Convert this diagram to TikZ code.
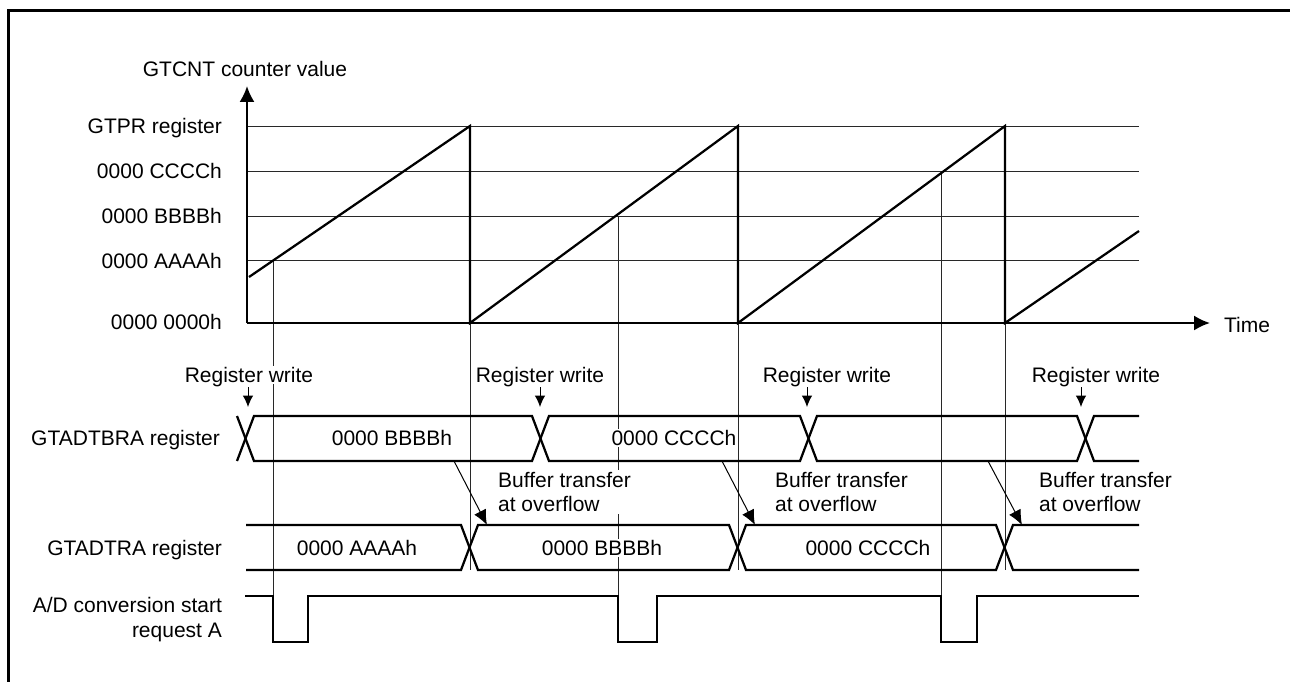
\documentclass[tikz,border=0pt]{standalone}
\usepackage{fontspec}
\setmainfont{Liberation Sans}
\usepackage{tikz}
\usetikzlibrary{arrows.meta, calc}
\definecolor{ink}{RGB}{0,0,0}
\definecolor{rule}{RGB}{40,40,40}

\begin{document}
\begin{tikzpicture}[
    x=0.2mm, y=-0.2mm,
    font=\fontsize{11.95}{14.2}\selectfont,
    >={Latex[length=9pt,width=8.5pt]},
    sig/.style={draw=ink,line width=0.45mm,line join=miter},
    grd/.style={draw=rule,line width=0.2mm},
    lbl/.style={fill=white,inner sep=1pt,text height=8.6pt,text depth=0pt},
    two/.style={fill=white,inner sep=1pt,align=left},
    wr/.style={-{Latex[length=6.5pt,width=6pt]},draw=ink,line width=0.2mm},
    bt/.style={-{Latex[length=8.5pt,width=7.5pt]},draw=ink,line width=0.2mm}]

  \useasboundingbox (0,0) rectangle (1290,682);
  \draw[line width=0.6mm] (8.5,682) -- (8.5,10.5) -- (1290,10.5);

  % counter value axes
  \coordinate (O) at (247,323);
  \coordinate (ytop) at (247,86);
  \coordinate (xend) at (1210,323);
  \node[lbl] (ylab) at (245,69) {GTCNT counter value};
  \node[lbl,anchor=west] (tlab) at (1222,325) {Time};

  \node[lbl,anchor=east] (lpr) at (224,126) {GTPR register};
  \node[lbl,anchor=east] (lcc) at (224,171) {0000 CCCCh};
  \node[lbl,anchor=east] (lbb) at (224,216) {0000 BBBBh};
  \node[lbl,anchor=east] (laa) at (224,261) {0000 AAAAh};
  \node[lbl,anchor=east] (l00) at (224,322) {0000 0000h};

  \draw[grd] (247,126) -- (1139,126);
  \draw[grd] (247,171) -- (1139,171);
  \draw[grd] (247,216) -- (1139,216);
  \draw[grd] (247,260) -- (1139,260);

  % compare match points and overflow points
  \coordinate (cA) at (273,260);
  \coordinate (cB) at (618,216);
  \coordinate (cC) at (941,171);
  \draw[grd] (cA) -- (273,596);
  \draw[grd] (cB) -- (618,596);
  \draw[grd] (cC) -- (941,596);
  \draw[grd] (470,323) -- (470,570);
  \draw[grd] (738,323) -- (738,570);
  \draw[grd] (1005,323) -- (1005,570);

  \draw[sig] (249,277) -- (470,126) -- (470,323) -- (738,126) -- (738,323)
        -- (1005,126) -- (1005,323) -- (1139,231);
  \draw[sig,->] (O) -- (ytop);
  \draw[sig,->] (O) -- (xend);

  % GTADTBRA
  \node[lbl,anchor=east] (nB) at (222,438) {GTADTBRA register};
  \draw[sig] (237,461) -- (254,416) -- (532,416) -- (549,461) -- (800,461)
        -- (817,416) -- (1077,416) -- (1094,461) -- (1139,461);
  \draw[sig] (237,416) -- (254,461) -- (532,461) -- (549,416) -- (800,416)
        -- (817,461) -- (1077,461) -- (1094,416) -- (1139,416);
  \node[lbl] (vB1) at (392,438) {0000 BBBBh};
  \node[lbl] (vC1) at (674,438) {0000 CCCCh};

  \node[lbl] (rw1) at (249,375) {Register write};
  \node[lbl] (rw2) at (540,375) {Register write};
  \node[lbl] (rw3) at (827,375) {Register write};
  \node[lbl] (rw4) at (1096,375) {Register write};
  \coordinate (w1) at (248,407);
  \coordinate (w2) at (540,407);
  \coordinate (w3) at (807,407);
  \coordinate (w4) at (1081,407);
  \draw[wr,shorten <=1.5pt] (rw1.south -| w1) -- (w1);
  \draw[wr,shorten <=1.5pt] (rw2.south -| w2) -- (w2);
  \draw[wr,shorten <=1.5pt] (rw3.south -| w3) -- (w3);
  \draw[wr,shorten <=1.5pt] (rw4.south -| w4) -- (w4);

  % GTADTRA
  \node[lbl,anchor=east] (nA) at (224,548) {GTADTRA register};
  \draw[sig] (246,525) -- (461,525) -- (478,570) -- (729,570) -- (746,525)
        -- (996,525) -- (1013,570) -- (1139,570);
  \draw[sig] (246,570) -- (461,570) -- (478,525) -- (729,525) -- (746,570)
        -- (996,570) -- (1013,525) -- (1139,525);
  \node[lbl] (vA2) at (357,548) {0000 AAAAh};
  \node[lbl] (vB2) at (602,548) {0000 BBBBh};
  \node[lbl] (vC2) at (868,548) {0000 CCCCh};

  \node[two,anchor=west] (bt1) at (496,492) {Buffer transfer\\at overflow};
  \node[two,anchor=west] (bt2) at (773,492) {Buffer transfer\\at overflow};
  \node[two,anchor=west] (bt3) at (1037,492) {Buffer transfer\\at overflow};
  \coordinate (bs1) at (454,461);
  \coordinate (be1) at (487,525);
  \coordinate (bs2) at (722,461);
  \coordinate (be2) at (755,525);
  \coordinate (bs3) at (988,461);
  \coordinate (be3) at (1022,525);
  \draw[bt] (bs1) -- (be1);
  \draw[bt] (bs2) -- (be2);
  \draw[bt] (bs3) -- (be3);

  % A/D conversion start request
  \node[two,align=right,anchor=east] (nAD) at (224,620) {A/D conversion start\\request A};
  \draw[sig] (245,596) -- (273,596) -- (273,642) -- (308,642) -- (308,596)
        -- (618,596) -- (618,642) -- (657,642) -- (657,596) -- (941,596)
        -- (941,642) -- (977,642) -- (977,596) -- (1139,596);
\end{tikzpicture}
\end{document}
